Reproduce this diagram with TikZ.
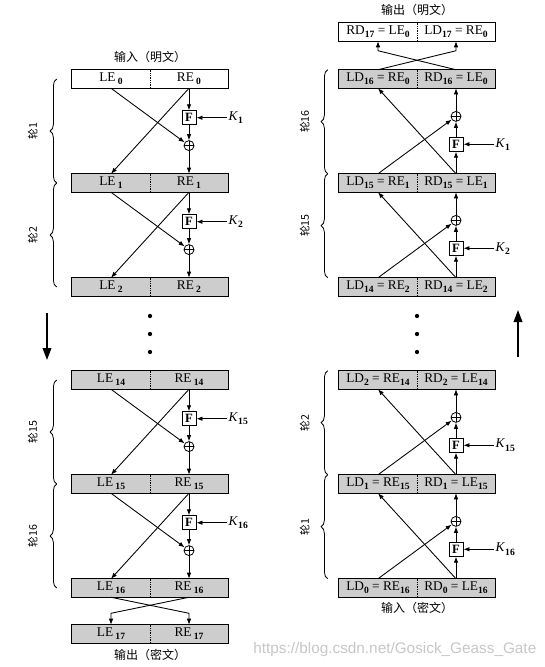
\documentclass[tikz,border=0pt]{standalone}
\usepackage{fontspec}
\setmainfont{Liberation Serif}
\newfontfamily\cjk{Noto Sans CJK SC}
\newfontfamily\wmfont{Liberation Sans}
\usepackage{xcolor}
\definecolor{boxgray}{HTML}{CDCDCD}
\usepackage{tikz}
\usetikzlibrary{positioning,arrows.meta,calc,decorations.pathreplacing}
\newcommand{\lo}[1]{\raisebox{-2.4pt}{\fontsize{7.2}{8}\selectfont\bfseries #1}}

\begin{document}
\begin{tikzpicture}[x=0.75pt,y=-0.75pt,
    half/.style={minimum width=58.5pt, minimum height=13.5pt, inner sep=0pt,
                 font=\fontsize{10}{11}\selectfont},
    divider/.style={densely dotted, line width=0.3pt},
    outline/.style={line width=0.7pt},
    fbox/.style={draw, line width=0.7pt, fill=white, minimum size=10.5pt, inner sep=0pt,
                 font=\bfseries\fontsize{9.5}{10}\selectfont},
    xor/.style={circle, draw, line width=0.6pt, fill=white, minimum size=7.5pt, inner sep=0pt,
                path picture={\draw (path picture bounding box.north) -- (path picture bounding box.south)
                                    (path picture bounding box.west) -- (path picture bounding box.east);}},
    key/.style={inner sep=1pt, font=\fontsize{10}{11}\selectfont},
    arr/.style={-{Latex[length=4.5pt,width=3.4pt]}, line width=0.65pt},
    bigarr/.style={-{Triangle[length=9pt,width=6.5pt]}, line width=1.2pt},
    brace/.style={decorate, decoration={brace, amplitude=5pt}, line width=0.6pt},
    roundlbl/.style={rotate=90, font=\cjk\fontsize{8}{9}\selectfont},
    title/.style={font=\cjk\fontsize{9}{10}\selectfont}]
  \useasboundingbox (0,0) rectangle (544,667);

  % encryption (left)
  \foreach \n/\y/\f in {0/79/white,1/183/boxgray,2/287/boxgray,14/380/boxgray,
                        15/484/boxgray,16/588/boxgray,17/634/boxgray} {
    \node[half, fill=\f] (LE\n) at (111,\y) {LE\,\lo{\n}};
    \node[half, fill=\f] (RE\n) at (189,\y) {RE\,\lo{\n}};
    \draw[outline] (LE\n.north west) rectangle (RE\n.south east);
    \draw[divider] (LE\n.north east) -- (LE\n.south east);
  }
  \foreach \a/\b/\k in {0/1/1,1/2/2,14/15/15,15/16/16} {
    \node[fbox, below=16.5pt of RE\a] (F\k) {F};
    \node[xor, below=11.25pt of F\k] (X\k) {};
    \node[key, right=23pt of F\k] (K\k) {\textit{K}\lo{\k}};
    \draw[arr] (RE\a.south) -- (F\k);
    \draw[arr] (F\k) -- (X\k);
    \draw[arr] (X\k) -- (RE\b.north);
    \draw[arr] (K\k) -- (F\k);
    \draw[arr] (LE\a.south) -- (X\k);
    \draw[arr] (RE\a.south) -- (LE\b.north);
    \draw[brace] ($(LE\b.west)+(-15,0)$) -- ($(LE\a.west)+(-15,0)$);
    \node[roundlbl] (rl\k) at ($(LE\a.west)!0.5!(LE\b.west)+(-39,0)$) {轮\k};
  }
  \draw[arr] (LE16.south) -- ++(78,16) -- (RE17.north);
  \draw[arr] (RE16.south) -- ++(-78,16) -- (LE17.north);
  \node[title] (inL) at (150,57) {输入（明文）};
  \node[title] (outL) at (150,655) {输出（密文）};

  % decryption (right)
  \foreach \n/\m/\y in {16/0/79,15/1/183,14/2/287,2/14/380,1/15/484,0/16/588} {
    \node[half, fill=boxgray] (LD\n) at (378,\y) {LD\lo{\n} = RE\lo{\m}};
    \node[half, fill=boxgray] (RD\n) at (456,\y) {RD\lo{\n} = LE\lo{\m}};
    \draw[outline] (LD\n.north west) rectangle (RD\n.south east);
    \draw[divider] (LD\n.north east) -- (LD\n.south east);
  }
  \node[half, fill=white] (RD17) at (378,32) {RD\lo{17} = LE\lo{0}};
  \node[half, fill=white] (LD17) at (456,32) {LD\lo{17} = RE\lo{0}};
  \draw[outline] (RD17.north west) rectangle (LD17.south east);
  \draw[divider] (RD17.north east) -- (RD17.south east);
  \foreach \a/\b/\k/\r in {0/1/16/1,1/2/15/2,14/15/2/15,15/16/1/16} {
    \node[fbox, above=16.5pt of RD\a] (DF\k) {F};
    \node[xor, above=11.25pt of DF\k] (DX\k) {};
    \node[key, right=23pt of DF\k] (DK\k) {\textit{K}\lo{\k}};
    \draw[arr] (RD\a.north) -- (DF\k);
    \draw[arr] (DF\k) -- (DX\k);
    \draw[arr] (DX\k) -- (RD\b.south);
    \draw[arr] (DK\k) -- (DF\k);
    \draw[arr] (LD\a.north) -- (DX\k);
    \draw[arr] (RD\a.north) -- (LD\b.south);
    \draw[brace] ($(LD\a.north west)+(-11,0)$) -- ($(LD\b.north west)+(-11,0)$);
    \node[roundlbl] (dl\r) at ($(LD\a.north west)!0.5!(LD\b.north west)+(-34,0)$) {轮\r};
  }
  \draw[arr] (LD16.north) -- ++(78,-19) -- (LD17.south);
  \draw[arr] (RD16.north) -- ++(-78,-19) -- (RD17.south);
  \node[title] (outR) at (417,10) {输出（明文）};
  \node[title] (inR) at (417,608) {输入（密文）};

  % dots and direction arrows
  \foreach \y in {316,334,352} {
    \fill (150,\y) circle (1.6pt);
    \fill (417,\y) circle (1.6pt);
  }
  \coordinate (encA) at (47,313);
  \coordinate (encB) at (47,360);
  \coordinate (decA) at (518,357);
  \coordinate (decB) at (518,310);
  \draw[bigarr] (encA) -- (encB);
  \draw[bigarr] (decA) -- (decB);

  \node[anchor=east, text=black!22, font=\wmfont\fontsize{11.5}{12}\selectfont] (wm)
       at (541,650) {https://blog.csdn.net/Gosick\_Geass\_Gate};
\end{tikzpicture}
\end{document}
